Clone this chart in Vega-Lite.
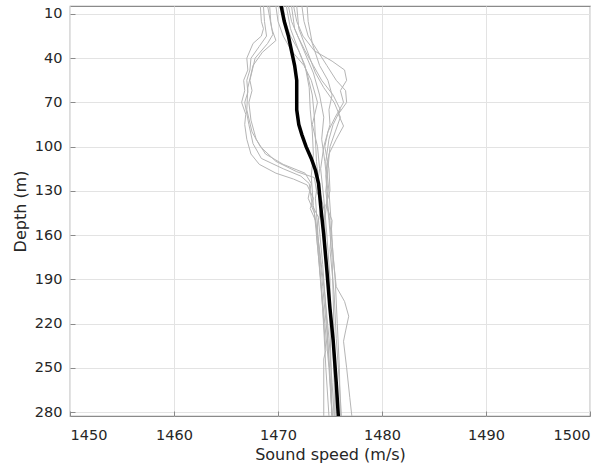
{
  "$schema": "https://vega.github.io/schema/vega-lite/v6.json",
  "width": 520,
  "height": 410,
  "autosize": {"type": "none"},
  "padding": {"left": 70, "top": 6, "right": 23, "bottom": 53},
  "background": "white",
  "config": {
    "view": {"stroke": "#8a8a8a", "strokeWidth": 1.2},
    "font": "DejaVu Sans",
    "axis": {
      "labelFont": "DejaVu Sans",
      "titleFont": "DejaVu Sans",
      "labelFontSize": 14.5,
      "titleFontSize": 16,
      "labelColor": "#262626",
      "titleColor": "#262626",
      "titleFontWeight": "normal",
      "domain": false,
      "gridColor": "#e3e3e3",
      "gridWidth": 1,
      "tickColor": "#8a8a8a",
      "tickSize": -5
    }
  },
  "datasets": {
    "profiles": [
      {"p":"A","depth":4.6,"speed":1468.3},{"p":"A","depth":15,"speed":1468.4},{"p":"A","depth":20,"speed":1468.6},{"p":"A","depth":25,"speed":1468.4},{"p":"A","depth":30,"speed":1467.6},{"p":"A","depth":40,"speed":1467.0},{"p":"A","depth":48,"speed":1467.1},{"p":"A","depth":55,"speed":1466.7},{"p":"A","depth":62,"speed":1466.8},{"p":"A","depth":70,"speed":1466.5},{"p":"A","depth":78,"speed":1466.9},{"p":"A","depth":85,"speed":1466.8},{"p":"A","depth":95,"speed":1467.0},{"p":"A","depth":105,"speed":1467.4},{"p":"A","depth":112,"speed":1468.2},{"p":"A","depth":118,"speed":1469.8},{"p":"A","depth":122,"speed":1471.5},{"p":"A","depth":126,"speed":1472.8},{"p":"A","depth":135,"speed":1473.4},{"p":"A","depth":142,"speed":1473.1},{"p":"A","depth":150,"speed":1473.6},{"p":"A","depth":170,"speed":1474.0},{"p":"A","depth":200,"speed":1474.5},{"p":"A","depth":230,"speed":1474.9},{"p":"A","depth":260,"speed":1475.2},{"p":"A","depth":282.7,"speed":1475.4},
      {"p":"B","depth":4.6,"speed":1468.6},{"p":"B","depth":15,"speed":1468.7},{"p":"B","depth":25,"speed":1468.9},{"p":"B","depth":32,"speed":1468.2},{"p":"B","depth":40,"speed":1467.4},{"p":"B","depth":48,"speed":1467.3},{"p":"B","depth":55,"speed":1467.0},{"p":"B","depth":63,"speed":1467.1},{"p":"B","depth":70,"speed":1466.8},{"p":"B","depth":85,"speed":1467.2},{"p":"B","depth":98,"speed":1467.6},{"p":"B","depth":108,"speed":1468.4},{"p":"B","depth":115,"speed":1470.5},{"p":"B","depth":120,"speed":1472.2},{"p":"B","depth":125,"speed":1473.0},{"p":"B","depth":140,"speed":1473.3},{"p":"B","depth":148,"speed":1473.9},{"p":"B","depth":160,"speed":1473.7},{"p":"B","depth":190,"speed":1474.1},{"p":"B","depth":220,"speed":1474.5},{"p":"B","depth":250,"speed":1474.9},{"p":"B","depth":282.7,"speed":1475.2},
      {"p":"C","depth":4.6,"speed":1469.2},{"p":"C","depth":15,"speed":1469.3},{"p":"C","depth":24,"speed":1469.5},{"p":"C","depth":30,"speed":1469.0},{"p":"C","depth":40,"speed":1467.8},{"p":"C","depth":55,"speed":1467.3},{"p":"C","depth":62,"speed":1467.5},{"p":"C","depth":70,"speed":1467.2},{"p":"C","depth":82,"speed":1467.4},{"p":"C","depth":95,"speed":1467.9},{"p":"C","depth":105,"speed":1468.8},{"p":"C","depth":112,"speed":1470.5},{"p":"C","depth":118,"speed":1472.6},{"p":"C","depth":125,"speed":1473.2},{"p":"C","depth":135,"speed":1472.9},{"p":"C","depth":145,"speed":1473.5},{"p":"C","depth":175,"speed":1473.9},{"p":"C","depth":210,"speed":1474.3},{"p":"C","depth":250,"speed":1474.6},{"p":"C","depth":282.7,"speed":1474.9},
      {"p":"D","depth":4.6,"speed":1469.0},{"p":"D","depth":20,"speed":1469.4},{"p":"D","depth":28,"speed":1469.8},{"p":"D","depth":36,"speed":1468.5},{"p":"D","depth":45,"speed":1467.6},{"p":"D","depth":60,"speed":1467.1},{"p":"D","depth":75,"speed":1467.0},{"p":"D","depth":90,"speed":1467.5},{"p":"D","depth":100,"speed":1468.3},{"p":"D","depth":110,"speed":1469.8},{"p":"D","depth":117,"speed":1471.8},{"p":"D","depth":121,"speed":1473.5},{"p":"D","depth":130,"speed":1473.7},{"p":"D","depth":138,"speed":1474.2},{"p":"D","depth":150,"speed":1473.9},{"p":"D","depth":180,"speed":1474.3},{"p":"D","depth":220,"speed":1474.7},{"p":"D","depth":282.7,"speed":1475.2},
      {"p":"E","depth":4.6,"speed":1471.5},{"p":"E","depth":15,"speed":1471.8},{"p":"E","depth":25,"speed":1472.4},{"p":"E","depth":35,"speed":1473.5},{"p":"E","depth":42,"speed":1475.2},{"p":"E","depth":48,"speed":1476.4},{"p":"E","depth":55,"speed":1476.6},{"p":"E","depth":62,"speed":1476.0},{"p":"E","depth":70,"speed":1476.3},{"p":"E","depth":80,"speed":1475.5},{"p":"E","depth":90,"speed":1474.8},{"p":"E","depth":100,"speed":1474.5},{"p":"E","depth":115,"speed":1474.9},{"p":"E","depth":130,"speed":1475.0},{"p":"E","depth":140,"speed":1474.6},{"p":"E","depth":150,"speed":1475.2},{"p":"E","depth":170,"speed":1475.0},{"p":"E","depth":200,"speed":1475.4},{"p":"E","depth":230,"speed":1475.6},{"p":"E","depth":260,"speed":1475.9},{"p":"E","depth":282.7,"speed":1476.1},
      {"p":"F","depth":4.6,"speed":1472.3},{"p":"F","depth":15,"speed":1472.5},{"p":"F","depth":25,"speed":1472.9},{"p":"F","depth":35,"speed":1473.8},{"p":"F","depth":45,"speed":1474.7},{"p":"F","depth":55,"speed":1475.6},{"p":"F","depth":62,"speed":1476.5},{"p":"F","depth":70,"speed":1476.6},{"p":"F","depth":78,"speed":1475.8},{"p":"F","depth":86,"speed":1476.3},{"p":"F","depth":95,"speed":1475.6},{"p":"F","depth":105,"speed":1474.9},{"p":"F","depth":120,"speed":1474.6},{"p":"F","depth":140,"speed":1474.8},{"p":"F","depth":165,"speed":1475.2},{"p":"F","depth":190,"speed":1475.5},{"p":"F","depth":220,"speed":1475.7},{"p":"F","depth":250,"speed":1475.9},{"p":"F","depth":282.7,"speed":1476.0},
      {"p":"G","depth":4.6,"speed":1471.0},{"p":"G","depth":15,"speed":1471.3},{"p":"G","depth":25,"speed":1471.9},{"p":"G","depth":35,"speed":1472.6},{"p":"G","depth":45,"speed":1473.4},{"p":"G","depth":55,"speed":1474.2},{"p":"G","depth":65,"speed":1475.3},{"p":"G","depth":75,"speed":1476.0},{"p":"G","depth":85,"speed":1475.3},{"p":"G","depth":95,"speed":1474.9},{"p":"G","depth":110,"speed":1474.6},{"p":"G","depth":130,"speed":1474.9},{"p":"G","depth":150,"speed":1475.1},{"p":"G","depth":175,"speed":1475.3},{"p":"G","depth":195,"speed":1475.6},{"p":"G","depth":205,"speed":1476.4},{"p":"G","depth":215,"speed":1476.8},{"p":"G","depth":225,"speed":1476.5},{"p":"G","depth":232,"speed":1476.3},{"p":"G","depth":250,"speed":1476.6},{"p":"G","depth":270,"speed":1476.9},{"p":"G","depth":282.7,"speed":1477.1},
      {"p":"H","depth":4.6,"speed":1470.8},{"p":"H","depth":20,"speed":1471.2},{"p":"H","depth":35,"speed":1472.0},{"p":"H","depth":50,"speed":1472.8},{"p":"H","depth":65,"speed":1473.3},{"p":"H","depth":80,"speed":1473.5},{"p":"H","depth":95,"speed":1473.6},{"p":"H","depth":110,"speed":1473.7},{"p":"H","depth":130,"speed":1474.0},{"p":"H","depth":145,"speed":1474.5},{"p":"H","depth":160,"speed":1474.3},{"p":"H","depth":190,"speed":1474.8},{"p":"H","depth":220,"speed":1475.2},{"p":"H","depth":250,"speed":1475.5},{"p":"H","depth":282.7,"speed":1475.8},
      {"p":"I","depth":4.6,"speed":1471.3},{"p":"I","depth":20,"speed":1471.6},{"p":"I","depth":35,"speed":1472.5},{"p":"I","depth":50,"speed":1473.4},{"p":"I","depth":65,"speed":1474.0},{"p":"I","depth":80,"speed":1474.4},{"p":"I","depth":95,"speed":1474.2},{"p":"I","depth":110,"speed":1474.5},{"p":"I","depth":130,"speed":1474.8},{"p":"I","depth":150,"speed":1474.5},{"p":"I","depth":170,"speed":1474.6},{"p":"I","depth":195,"speed":1474.9},{"p":"I","depth":215,"speed":1475.1},{"p":"I","depth":240,"speed":1475.3},{"p":"I","depth":260,"speed":1475.4},{"p":"I","depth":282.7,"speed":1475.4},
      {"p":"J","depth":4.6,"speed":1472.8},{"p":"J","depth":15,"speed":1472.9},{"p":"J","depth":30,"speed":1473.3},{"p":"J","depth":45,"speed":1474.0},{"p":"J","depth":55,"speed":1474.8},{"p":"J","depth":65,"speed":1475.2},{"p":"J","depth":75,"speed":1474.9},{"p":"J","depth":85,"speed":1475.0},{"p":"J","depth":100,"speed":1474.4},{"p":"J","depth":115,"speed":1474.1},{"p":"J","depth":135,"speed":1474.4},{"p":"J","depth":160,"speed":1474.7},{"p":"J","depth":190,"speed":1475.0},{"p":"J","depth":220,"speed":1475.0},{"p":"J","depth":250,"speed":1475.1},{"p":"J","depth":282.7,"speed":1475.2},
      {"p":"K","depth":4.6,"speed":1469.8},{"p":"K","depth":15,"speed":1470.0},{"p":"K","depth":25,"speed":1470.5},{"p":"K","depth":35,"speed":1471.3},{"p":"K","depth":45,"speed":1472.5},{"p":"K","depth":55,"speed":1473.2},{"p":"K","depth":70,"speed":1473.8},{"p":"K","depth":85,"speed":1473.3},{"p":"K","depth":100,"speed":1473.8},{"p":"K","depth":115,"speed":1474.0},{"p":"K","depth":135,"speed":1473.6},{"p":"K","depth":155,"speed":1473.8},{"p":"K","depth":180,"speed":1474.0},{"p":"K","depth":210,"speed":1474.3},{"p":"K","depth":238,"speed":1474.6},{"p":"K","depth":244,"speed":1474.4},{"p":"K","depth":282.7,"speed":1474.4},
      {"p":"L","depth":4.6,"speed":1471.8},{"p":"L","depth":20,"speed":1472.0},{"p":"L","depth":35,"speed":1472.8},{"p":"L","depth":50,"speed":1473.6},{"p":"L","depth":60,"speed":1474.4},{"p":"L","depth":70,"speed":1475.4},{"p":"L","depth":80,"speed":1476.0},{"p":"L","depth":90,"speed":1475.5},{"p":"L","depth":100,"speed":1475.0},{"p":"L","depth":115,"speed":1474.8},{"p":"L","depth":130,"speed":1474.6},{"p":"L","depth":150,"speed":1474.9},{"p":"L","depth":175,"speed":1475.2},{"p":"L","depth":200,"speed":1475.3},{"p":"L","depth":230,"speed":1475.4},{"p":"L","depth":260,"speed":1475.5},{"p":"L","depth":282.7,"speed":1475.5},
      {"p":"M","depth":4.6,"speed":1470.5},{"p":"M","depth":15,"speed":1470.7},{"p":"M","depth":25,"speed":1471.2},{"p":"M","depth":35,"speed":1472.0},{"p":"M","depth":45,"speed":1472.6},{"p":"M","depth":60,"speed":1473.0},{"p":"M","depth":75,"speed":1473.1},{"p":"M","depth":90,"speed":1473.3},{"p":"M","depth":105,"speed":1473.4},{"p":"M","depth":120,"speed":1473.2},{"p":"M","depth":140,"speed":1473.4},{"p":"M","depth":165,"speed":1473.9},{"p":"M","depth":195,"speed":1474.3},{"p":"M","depth":225,"speed":1474.7},{"p":"M","depth":255,"speed":1475.0},{"p":"M","depth":282.7,"speed":1475.2}
    ],
    "mean": [
      {"depth":4.6,"speed":1470.3},{"depth":15,"speed":1470.6},{"depth":25,"speed":1471.0},{"depth":35,"speed":1471.3},{"depth":45,"speed":1471.6},{"depth":55,"speed":1471.8},{"depth":65,"speed":1471.8},{"depth":75,"speed":1471.8},{"depth":85,"speed":1472.0},{"depth":92,"speed":1472.3},{"depth":100,"speed":1472.7},{"depth":108,"speed":1473.2},{"depth":116,"speed":1473.6},{"depth":125,"speed":1473.9},{"depth":140,"speed":1474.1},{"depth":160,"speed":1474.4},{"depth":184,"speed":1474.7},{"depth":210,"speed":1475.0},{"depth":231,"speed":1475.3},{"depth":260,"speed":1475.6},{"depth":282.7,"speed":1475.8}
    ]
  },
  "encoding": {
    "x": {"field": "speed", "type": "quantitative",
      "scale": {"domain": [1450, 1500], "nice": false, "zero": false},
      "axis": {"values": [1450,1460,1470,1480,1490,1500], "title": "Sound speed (m/s)", "labelPadding": 17, "titlePadding": 5, "format": "d"}},
    "y": {"field": "depth", "type": "quantitative",
      "scale": {"domain": [4.6, 282.7], "nice": false, "zero": false, "reverse": true},
      "axis": {"values": [10,40,70,100,130,160,190,220,250,280], "title": "Depth (m)", "labelPadding": 13, "titlePadding": 6}},
    "order": {"field": "depth", "type": "quantitative"}
  },
  "layer": [
    {
      "data": {"name": "profiles"},
      "mark": {"type": "line", "color": "#b5b5b5", "strokeWidth": 1, "clip": true},
      "encoding": {"detail": {"field": "p", "type": "nominal"}}
    },
    {
      "data": {"name": "mean"},
      "mark": {"type": "line", "color": "#000000", "strokeWidth": 3.5, "clip": true},
      "encoding": {}
    }
  ]
}
